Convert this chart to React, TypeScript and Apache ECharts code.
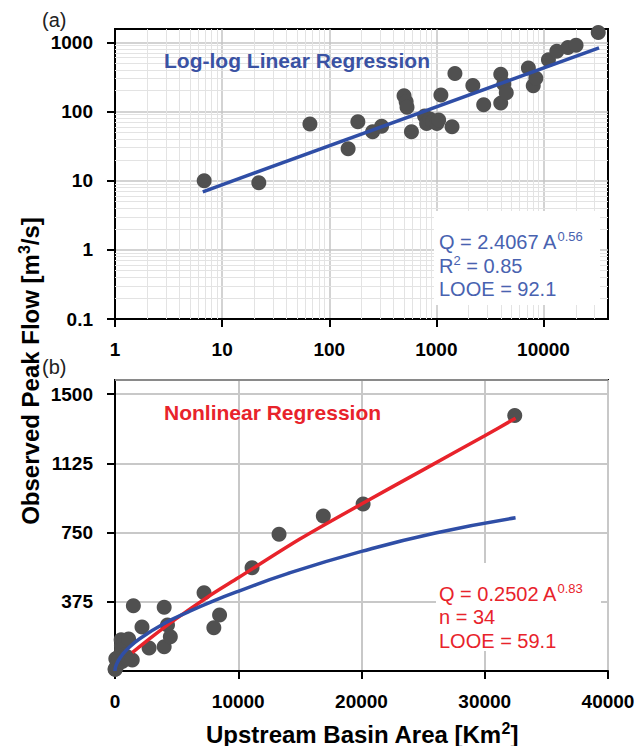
import React, { useEffect, useRef } from "react";
import * as echarts from "echarts";

// Observed points (upstream basin area km², observed peak flow m³/s)
const areaKm2 = [6.8, 22, 66, 150, 185, 254, 308, 499, 522, 532, 585, 776, 811, 870, 930, 1011, 1050, 1102, 1400, 1490, 2190, 2765, 3990, 3990, 4260, 4490, 7225, 8020, 8485, 11120, 13310, 16900, 20130, 32435];
const peakFlow = [10, 9.3, 66, 29, 71, 51, 61, 169, 138, 115, 51, 86, 67, 78, 72, 67, 75, 173, 60, 354, 238, 125, 345, 132, 249, 186, 424, 235, 303, 560, 741, 840, 905, 1385];

// (a) log-log regression line endpoints
const logFitArea = [6.6, 33000];
const logFitFlow = [6.9, 830];

// (b) log-log fit shown in linear space (blue)
const powFitArea = [0, 100, 500, 1000, 2000, 4000, 6000, 8000, 10000, 14000, 20000, 26000, 32500];
const powFitFlow = [0, 33, 80, 118, 175, 258, 322, 380, 432, 528, 648, 748, 830];

// (b) nonlinear regression (red)
const nlFitArea = [1400, 3000, 5000, 7500, 10000, 15000, 20000, 25000, 30000, 32500];
const nlFitFlow = [100, 185, 285, 400, 505, 715, 905, 1090, 1275, 1370];

// ticks
const logXTicks = [1, 10, 100, 1000, 10000];
const logYTicks = [0.1, 1, 10, 100, 1000];
const linYTicks = [375, 750, 1125, 1500];
const minorX = [2, 3, 4, 5, 6, 7, 8, 9, 20, 30, 40, 50, 60, 70, 80, 90, 200, 300, 400, 500, 600, 700, 800, 900, 2000, 3000, 4000, 5000, 6000, 7000, 8000, 9000, 20000, 30000];
const minorY = [0.2, 0.3, 0.4, 0.5, 0.6, 0.7, 0.8, 0.9, 2, 3, 4, 5, 6, 7, 8, 9, 20, 30, 40, 50, 60, 70, 80, 90, 200, 300, 400, 500, 600, 700, 800, 900];

const FONT = "'Liberation Sans', Arial, sans-serif";
const BLUE = "#2f4ea6";
const BLUE_TXT = "#4862b0";
const RED = "#e8232b";
const DOT = "#505050";

const fmt = (v: number) => String(+Number(v).toPrecision(6));

const axisLabelStyle = {
  fontFamily: FONT,
  fontSize: 19,
  fontWeight: "bold",
  color: "#000",
};

export default function App() {
  const ref = useRef<HTMLDivElement>(null);
  useEffect(() => {
    if (!ref.current) return;
    const chart = echarts.init(ref.current, null, { renderer: "svg" });
    const pairs = (xs: number[], ys: number[]) => xs.map((x, i) => [x, ys[i]]);
    const axisLine = { show: true, onZero: false, lineStyle: { color: "#000", width: 2 } };
    const tick = (vals: number[]) => ({
      show: true,
      length: 8,
      inside: false,
      lineStyle: { color: "#000", width: 2 },
      customValues: vals,
    });
    const sup = (size: number, color: string, bold: boolean, lh: number) => ({
      t: { fontFamily: FONT, fontSize: size, fontWeight: bold ? "bold" : "normal", fill: color, lineHeight: lh },
      s: { fontFamily: FONT, fontSize: Math.round(size * 0.65), fontWeight: bold ? "bold" : "normal", fill: color, verticalAlign: "top", lineHeight: lh },
    });
    const option: any = {
      animation: false,
      grid: [
        { left: 115, top: 29, width: 493, height: 290, show: true, borderColor: "#000", borderWidth: 2, backgroundColor: "transparent" },
        { left: 115, top: 380, width: 493, height: 291, show: true, borderColor: "#000", borderWidth: 2, backgroundColor: "transparent" },
      ],
      xAxis: [
        {
          type: "log", gridIndex: 0, logBase: 10, min: 1, max: 40000,
          axisLine, axisTick: tick(logXTicks),
          axisLabel: { ...axisLabelStyle, customValues: logXTicks, formatter: fmt, margin: 21 },
          splitLine: { show: true, lineStyle: { color: "#c4c4c4", width: 1.5 } },
        },
        {
          type: "value", gridIndex: 1, min: 0, max: 40000, interval: 10000,
          axisLine, axisTick: { show: true, length: 8, lineStyle: { color: "#000", width: 2 } },
          axisLabel: { ...axisLabelStyle, formatter: fmt, margin: 21 },
          splitLine: { show: true, lineStyle: { color: "#c8c8c8", width: 2 } },
        },
      ],
      yAxis: [
        {
          type: "log", gridIndex: 0, logBase: 10, min: 0.1, max: 1556,
          axisLine, axisTick: tick(logYTicks),
          axisLabel: { ...axisLabelStyle, customValues: logYTicks, formatter: fmt, margin: 22 },
          splitLine: { show: true, lineStyle: { color: "#c4c4c4", width: 1.5 } },
        },
        {
          type: "value", gridIndex: 1, min: 0, max: 1577,
          axisLine, axisTick: tick(linYTicks),
          axisLabel: { ...axisLabelStyle, customValues: linYTicks, formatter: fmt, margin: 22 },
          splitLine: { show: true, lineStyle: { color: "#c8c8c8", width: 2 } },
        },
      ],
      series: [
        {
          type: "line", xAxisIndex: 0, yAxisIndex: 0, data: [], z: 1, silent: true,
          markLine: {
            z: 1, silent: true, symbol: ["none", "none"], label: { show: false },
            lineStyle: { color: "#e3e3e3", width: 1, type: "solid" },
            emphasis: { disabled: true },
            data: [...minorX.map((v) => ({ xAxis: v })), ...minorY.map((v) => ({ yAxis: v }))],
          },
        },
        {
          type: "scatter", xAxisIndex: 0, yAxisIndex: 0, data: pairs(areaKm2, peakFlow),
          symbolSize: 15, itemStyle: { color: DOT, opacity: 1 }, z: 3, clip: false,
        },
        {
          type: "line", xAxisIndex: 0, yAxisIndex: 0, data: pairs(logFitArea, logFitFlow),
          symbol: "none", lineStyle: { color: BLUE, width: 3.5 }, z: 5,
        },
        {
          type: "scatter", xAxisIndex: 1, yAxisIndex: 1, data: pairs(areaKm2, peakFlow),
          symbolSize: 15, itemStyle: { color: DOT, opacity: 1 }, z: 3, clip: false,
        },
        {
          type: "line", xAxisIndex: 1, yAxisIndex: 1, data: pairs(nlFitArea, nlFitFlow),
          symbol: "none", smooth: 0.3, lineStyle: { color: RED, width: 3.5 }, z: 4,
        },
        {
          type: "line", xAxisIndex: 1, yAxisIndex: 1, data: pairs(powFitArea, powFitFlow),
          symbol: "none", smooth: true, lineStyle: { color: BLUE, width: 3.5 }, z: 5,
        },
      ],
      graphic: [
        { type: "rect", z: 6, shape: { x: 434, y: 211, width: 166, height: 94 }, style: { fill: "#fff" } },
        { type: "rect", z: 6, shape: { x: 436, y: 563, width: 165, height: 88 }, style: { fill: "#fff" } },
        { type: "text", z: 7, x: 42, y: 20, style: { text: "(a)", fontFamily: FONT, fontSize: 20, fill: "#222", verticalAlign: "middle" } },
        { type: "text", z: 7, x: 42, y: 367, style: { text: "(b)", fontFamily: FONT, fontSize: 20, fill: "#222", verticalAlign: "middle" } },
        { type: "text", z: 7, x: 164, y: 60, style: { text: "Log-log Linear Regression", fontFamily: FONT, fontSize: 21, fontWeight: "bold", fill: "#3a52a3", verticalAlign: "middle" } },
        { type: "text", z: 7, x: 164, y: 412, style: { text: "Nonlinear Regression", fontFamily: FONT, fontSize: 21, fontWeight: "bold", fill: RED, verticalAlign: "middle" } },
        { type: "text", z: 7, x: 439, y: 242, style: { text: "{t|Q = 2.4067 A}{s|0.56}", verticalAlign: "middle", rich: sup(20, BLUE_TXT, false, 24) } },
        { type: "text", z: 7, x: 439, y: 266, style: { text: "{t|R}{s|2}{t| = 0.85}", verticalAlign: "middle", rich: sup(20, BLUE_TXT, false, 24) } },
        { type: "text", z: 7, x: 439, y: 289, style: { text: "LOOE = 92.1", fontFamily: FONT, fontSize: 20, fill: BLUE_TXT, verticalAlign: "middle" } },
        { type: "text", z: 7, x: 439, y: 594, style: { text: "{t|Q = 0.2502 A}{s|0.83}", verticalAlign: "middle", rich: sup(20, RED, false, 24) } },
        { type: "text", z: 7, x: 439, y: 617, style: { text: "n = 34", fontFamily: FONT, fontSize: 20, fill: RED, verticalAlign: "middle" } },
        { type: "text", z: 7, x: 439, y: 641, style: { text: "LOOE = 59.1", fontFamily: FONT, fontSize: 20, fill: RED, verticalAlign: "middle" } },
        {
          type: "text", z: 7, x: 30, y: 371, rotation: Math.PI / 2,
          style: { text: "{t|Observed Peak Flow [m}{s|3}{t|/s]}", align: "center", verticalAlign: "middle", rich: sup(24, "#000", true, 28) },
        },
        {
          type: "text", z: 7, x: 362, y: 734,
          style: { text: "{t|Upstream Basin Area [Km}{s|2}{t|]}", align: "center", verticalAlign: "middle", rich: sup(24, "#000", true, 28) },
        },
        { type: "line", z: 8, shape: { x1: 115, y1: 380, x2: 608, y2: 380 }, style: { stroke: "#8a8a8a", lineWidth: 2.2 } },
      ],
    };
    chart.setOption(option);
    return () => chart.dispose();
  }, []);
  return <div ref={ref} style={{ position: "absolute", left: 0, top: 0, width: 643, height: 746, background: "#fff" }} />;
}
